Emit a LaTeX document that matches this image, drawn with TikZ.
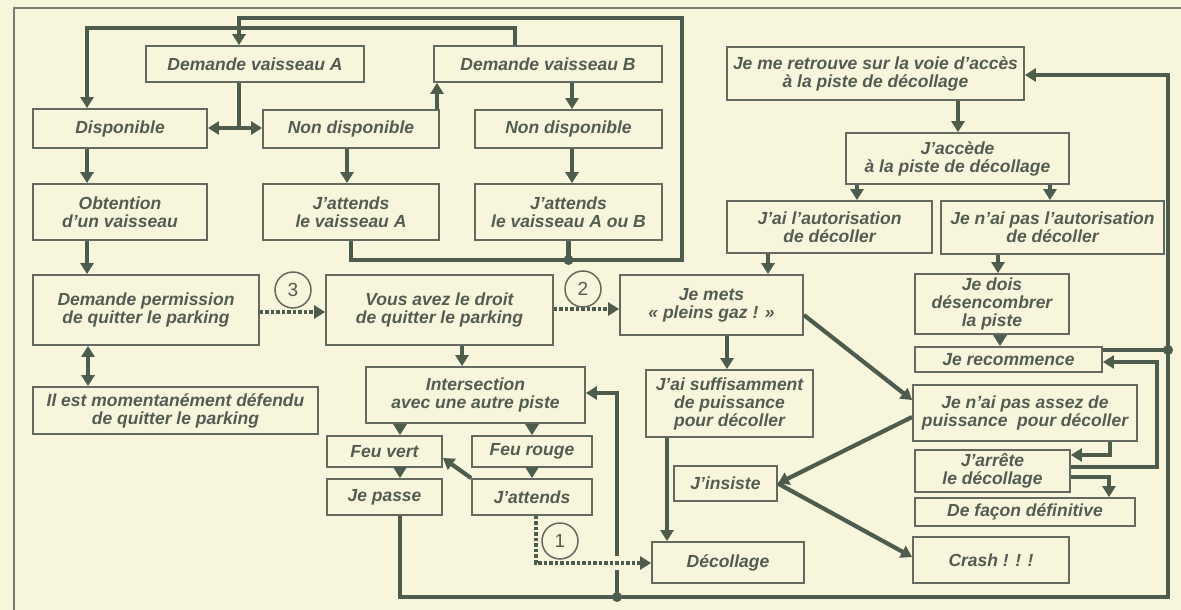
\documentclass[tikz,border=0pt]{standalone}
\usepackage{fontspec}
\setmainfont{Liberation Sans}
\usetikzlibrary{arrows.meta}
\definecolor{bg}{RGB}{247,245,220}
\definecolor{linec}{RGB}{78,92,78}
\definecolor{boxc}{RGB}{100,106,96}
\definecolor{txtc}{RGB}{84,92,82}
\definecolor{framec}{RGB}{120,125,115}
\newcommand{\bxfont}{\fontsize{17.5}{18}\selectfont\bfseries\itshape}
\newcommand{\numfont}{\fontsize{19}{19}\selectfont}
\newcommand{\bx}[6]{\node[box, minimum width={#4-#2}, minimum height={#5-#3}] (#1) at ({(#2+#4)/2},{(#3+#5)/2}) {#6};}
\tikzset{
  box/.style={draw=boxc, line width=1.8pt, inner sep=0pt, align=center, text=txtc, font=\bxfont},
  conn/.style={draw=linec, line width=4.2pt},
  arr/.style={conn, -{Triangle[width=13pt,length=11pt]}},
  darr/.style={conn, {Triangle[width=13pt,length=11pt]}-{Triangle[width=13pt,length=11pt]}},
  dots/.style={draw=linec, line width=4pt, dash pattern=on 3.5pt off 2pt, -{Triangle[width=13pt,length=11pt]}},
  jdot/.style={circle, fill=linec, inner sep=0pt, minimum size=10pt},
  num/.style={circle, draw=boxc, line width=1.5pt, minimum size=36pt, inner sep=0pt, font=\numfont, text=txtc, fill=bg}
}
\begin{document}
\begin{tikzpicture}[x=1pt,y=-1pt]
\fill[bg] (0,0) rectangle (1181,610);
\useasboundingbox (0,0) rectangle (1181,610);
% thin page frame
\draw[framec, line width=1.5pt] (14,610) -- (14,8) -- (1181,8);

% boxes
\bx{dA}{146}{46}{364}{82}{Demande vaisseau A}
\bx{dB}{434}{46}{662}{82}{Demande vaisseau B}
\bx{disp}{33}{109}{207}{148}{Disponible}
\bx{ndA}{263}{110}{439}{148}{Non disponible}
\bx{ndB}{475}{110}{662}{148}{Non disponible}
\bx{obt}{33}{184}{207}{240}{Obtention\\d'un vaisseau}
\bx{jaA}{263}{184}{439}{240}{J'attends\\le vaisseau A}
\bx{jaB}{475}{184}{662}{240}{J'attends\\le vaisseau A ou B}
\bx{perm}{33}{275}{259}{345}{Demande permission\\de quitter le parking}
\bx{defendu}{33}{387}{318}{434}{Il est momentanément défendu\\de quitter le parking}
\bx{vous}{326}{275}{553}{345}{Vous avez le droit\\de quitter le parking}
\bx{inter}{366}{367}{585}{423}{Intersection\\avec une autre piste}
\bx{fv}{327}{436}{442}{467}{Feu vert}
\bx{fr}{472}{436}{592}{467}{Feu rouge}
\bx{jp}{327}{479}{442}{515}{Je passe}
\bx{jatt}{472}{479}{592}{515}{J'attends}
\bx{mets}{620}{275}{803}{335}{Je mets\\« pleins gaz ! »}
\bx{suff}{646}{370}{813}{437}{J'ai suffisamment\\de puissance\\pour décoller}
\bx{insiste}{674}{466}{777}{501}{J'insiste}
\bx{deco}{652}{542}{804}{583}{Décollage}
\bx{retrouve}{727}{47}{1024}{100}{Je me retrouve sur la voie d'accès\\à la piste de décollage}
\bx{accede}{846}{133}{1069}{184}{J'accède\\à la piste de décollage}
\bx{auto}{727}{201}{932}{253}{J'ai l'autorisation\\de décoller}
\bx{noauto}{941}{201}{1164}{254}{Je n'ai pas l'autorisation\\de décoller}
\bx{dois}{915}{274}{1069}{334}{Je dois\\désencombrer\\la piste}
\bx{recom}{915}{347}{1102}{372}{Je recommence}
\bx{assez}{913}{385}{1137}{441}{Je n'ai pas assez de\\puissance\ \ pour décoller}
\bx{arrete}{915}{450}{1070}{492}{J'arrête\\le décollage}
\bx{defin}{915}{498}{1135}{526}{De façon définitive}
\bx{crash}{913}{537}{1069}{583}{Crash ! ! !}

% named bend points
\coordinate (R1) at (682,260);
\coordinate (T1) at (239,18);
\coordinate (T2) at (87,28);
\coordinate (S1) at (239,128);
\coordinate (B1) at (1168,597);
\coordinate (B0) at (617,597);
\coordinate (RD) at (1168,350);
\coordinate (K2) at (1157,362);

% upper left loops
\draw[arr] (jaA.south) |- (R1) |- (T1) -- (dA.north -| T1);
\draw[conn] (jaB.south) -- (jaB.south |- R1);
\node[jdot] (dot1) at (jaB.south |- R1) {};
\draw[arr] (dB.north -| 515,0) |- (T2) -- (disp.north -| T2);
\draw[conn] (dA.south -| S1) -- (S1);
\draw[darr] (disp.east |- S1) -- (ndA.west |- S1);
\draw[arr] (ndA.north -| 437,0) -- (dB.south -| 437,0);
\draw[arr] (dB.south -| 572,0) -- (ndB.north -| 572,0);
\draw[arr] (ndB.south -| 572,0) -- (jaB.north -| 572,0);
\draw[arr] (ndA.south -| 347,0) -- (jaA.north -| 347,0);
\draw[arr] (disp.south -| 87,0) -- (obt.north -| 87,0);
\draw[arr] (obt.south -| 87,0) -- (perm.north -| 87,0);
\draw[darr] (perm.south -| 88,0) -- (defendu.north -| 88,0);

% permissions
\draw[dots] (perm.east |- 0,312) -- (vous.west |- 0,312);
\node[num] (c3) at (293,290) {3};
\draw[dots] (vous.east |- 0,309) -- (mets.west |- 0,309);
\node[num] (c2) at (583,289) {2};

% intersection
\draw[arr] (vous.south -| 462,0) -- (inter.north -| 462,0);
\draw[arr] (inter.south -| 400,0) -- (fv.north -| 400,0);
\draw[arr] (inter.south -| 532,0) -- (fr.north -| 532,0);
\draw[arr] (fv.south -| 400,0) -- (jp.north -| 400,0);
\draw[arr] (fr.south -| 532,0) -- (jatt.north -| 532,0);
\draw[arr] (jatt.north west) -- (fv.east |- 0,458);

% big return loop
\draw[arr] (jp.south -| 400,0) |- (B1) |- (retrouve.east |- 0,75);
\draw[arr] (B0) |- (inter.east |- 0,393);
\node[jdot] (dot2) at (B0) {};
\draw[draw=bg, line width=14pt] (607,563) -- (627,563);
\draw[dots] (jatt.south -| 536,0) |- (deco.west |- 0,563);
\node[num] (c1) at (560,541) {1};

% take-off
\draw[arr] (mets.south -| 727,0) -- (suff.north -| 727,0);
\draw[arr] (suff.south -| 667,0) -- (deco.north -| 667,0);
\draw[arr] (mets.east |- 0,315) -- (assez.west |- 0,400);
\draw[arr] (assez.west |- 0,417) -- (insiste.east);
\draw[arr] (insiste.east) -- (crash.west |- 0,557);

% right column
\draw[arr] (retrouve.south -| 958,0) -- (accede.north -| 958,0);
\draw[arr] (accede.south -| 857,0) -- (auto.north -| 857,0);
\draw[arr] (accede.south -| 1050,0) -- (noauto.north -| 1050,0);
\draw[arr] (auto.south -| 768,0) -- (mets.north -| 768,0);
\draw[arr] (noauto.south -| 998,0) -- (dois.north -| 998,0);
\draw[arr] (dois.south -| 1000,0) -- (recom.north -| 1000,0);
\draw[conn] (recom.east |- RD) -- (RD);
\node[jdot] (dot3) at (RD) {};
\draw[arr] (assez.south -| 1110,0) |- (arrete.east |- 0,455);
\draw[arr] (arrete.east |- 0,467) -| (K2) -- (recom.east |- K2);
\draw[arr] (arrete.east |- 0,477) -| (defin.north -| 1109,0);
\end{tikzpicture}
\end{document}
